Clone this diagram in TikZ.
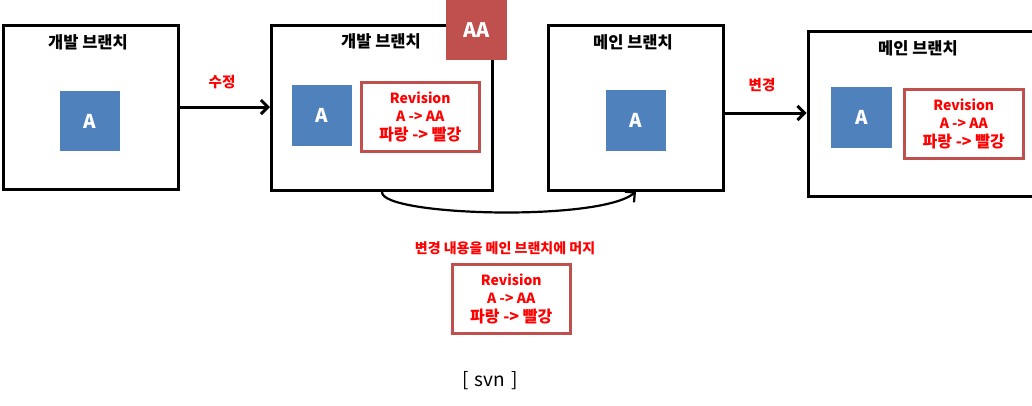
\documentclass[tikz,border=0pt]{standalone}
\usepackage{fontspec}
\setmainfont{Noto Sans CJK KR}
\usetikzlibrary{arrows.meta}
\definecolor{boxblue}{HTML}{4F81BD}
\definecolor{boxred}{HTML}{C0504D}
\definecolor{txtred}{HTML}{FF0000}
\newcommand{\krbig}[1]{{\fontsize{16pt}{18.5pt}\selectfont #1}}
\tikzset{
  branch/.style={draw=black, line width=3pt, fill=white, anchor=north west, inner sep=0pt},
  btitle/.style={font=\fontsize{16.5pt}{18pt}\selectfont\bfseries, text=black},
  fileA/.style={fill=boxblue, anchor=north west, inner sep=0pt, text=white, font=\fontsize{19pt}{22pt}\selectfont\bfseries},
  revbox/.style={draw=boxred, line width=2.5pt, fill=white, anchor=north west, inner sep=0pt, align=center, text=txtred, font=\fontsize{14pt}{18.5pt}\selectfont\bfseries},
  redlbl/.style={text=txtred, font=\fontsize{14.5pt}{16pt}\selectfont\bfseries},
  flow/.style={draw=black, line width=3pt, -{Straight Barb[length=7pt,width=14pt,line width=3pt]}},
  merge/.style={draw=black, line width=2.2pt, -{Straight Barb[length=7pt,width=14pt,line width=2.2pt]}},
}
\begin{document}
\begin{tikzpicture}[x=1pt,y=-1pt]
\useasboundingbox (0,0) rectangle (1032,405);
% box 1
\node[branch, minimum width=175pt, minimum height=164pt] (b1) at (1.5,24) {};
\node[btitle] (t1) at (88,42) {개발 브랜치};
\node[fileA, minimum width=60pt, minimum height=60pt] (a1) at (60,91) {A};
% box 2
\node[branch, minimum width=221pt, minimum height=165pt] (b2) at (270,24) {};
\node[btitle] (t2) at (381,41) {개발 브랜치};
\node[fileA, minimum width=60pt, minimum height=61pt] (a2) at (292,85) {A};
\node[revbox, minimum width=118pt, minimum height=69pt] (r2) at (360,81) {Revision\\A -> AA\\\krbig{파랑 -> 빨강}};
\node[fill=boxred, anchor=north west, inner sep=0pt, minimum width=61pt, minimum height=60pt, text=white, font=\fontsize{20pt}{22pt}\selectfont\bfseries] (aa) at (446,0) {AA};
% box 3
\node[branch, minimum width=175pt, minimum height=165pt] (b3) at (547,23.5) {};
\node[btitle] (t3) at (633,42) {메인 브랜치};
\node[fileA, minimum width=60pt, minimum height=61pt] (a3) at (606,90) {A};
% box 4
\node[branch, minimum width=225pt, minimum height=165pt] (b4) at (806.5,30) {};
\node[btitle] (t4) at (918,48) {메인 브랜치};
\node[fileA, minimum width=61pt, minimum height=61pt] (a4) at (831,87) {A};
\node[revbox, minimum width=119pt, minimum height=69pt] (r4) at (903,88) {Revision\\A -> AA\\\krbig{파랑 -> 빨강}};
% arrows
\draw[flow] (b1.east |- 0,107) -- (b2.west |- 0,107);
\node[redlbl] (l1) at (222,82) {수정};
\draw[flow] (b3.east |- 0,113) -- (b4.west |- 0,113);
\node[redlbl] (l2) at (762,85) {변경};
\draw[merge] (b2.south) .. controls (381,216) and (600,222) .. (b3.south);
% merge label
\node[redlbl, font=\fontsize{14pt}{16pt}\selectfont\bfseries] (l3) at (505,248) {변경 내용을 메인 브랜치에 머지};
\node[revbox, minimum width=118pt, minimum height=69pt] (r3) at (451,263) {Revision\\A -> AA\\\krbig{파랑 -> 빨강}};
\node[font=\fontsize{19pt}{21pt}\selectfont, text=black] (svn) at (490,381) {[\,\,svn\,\,]};
\end{tikzpicture}
\end{document}
